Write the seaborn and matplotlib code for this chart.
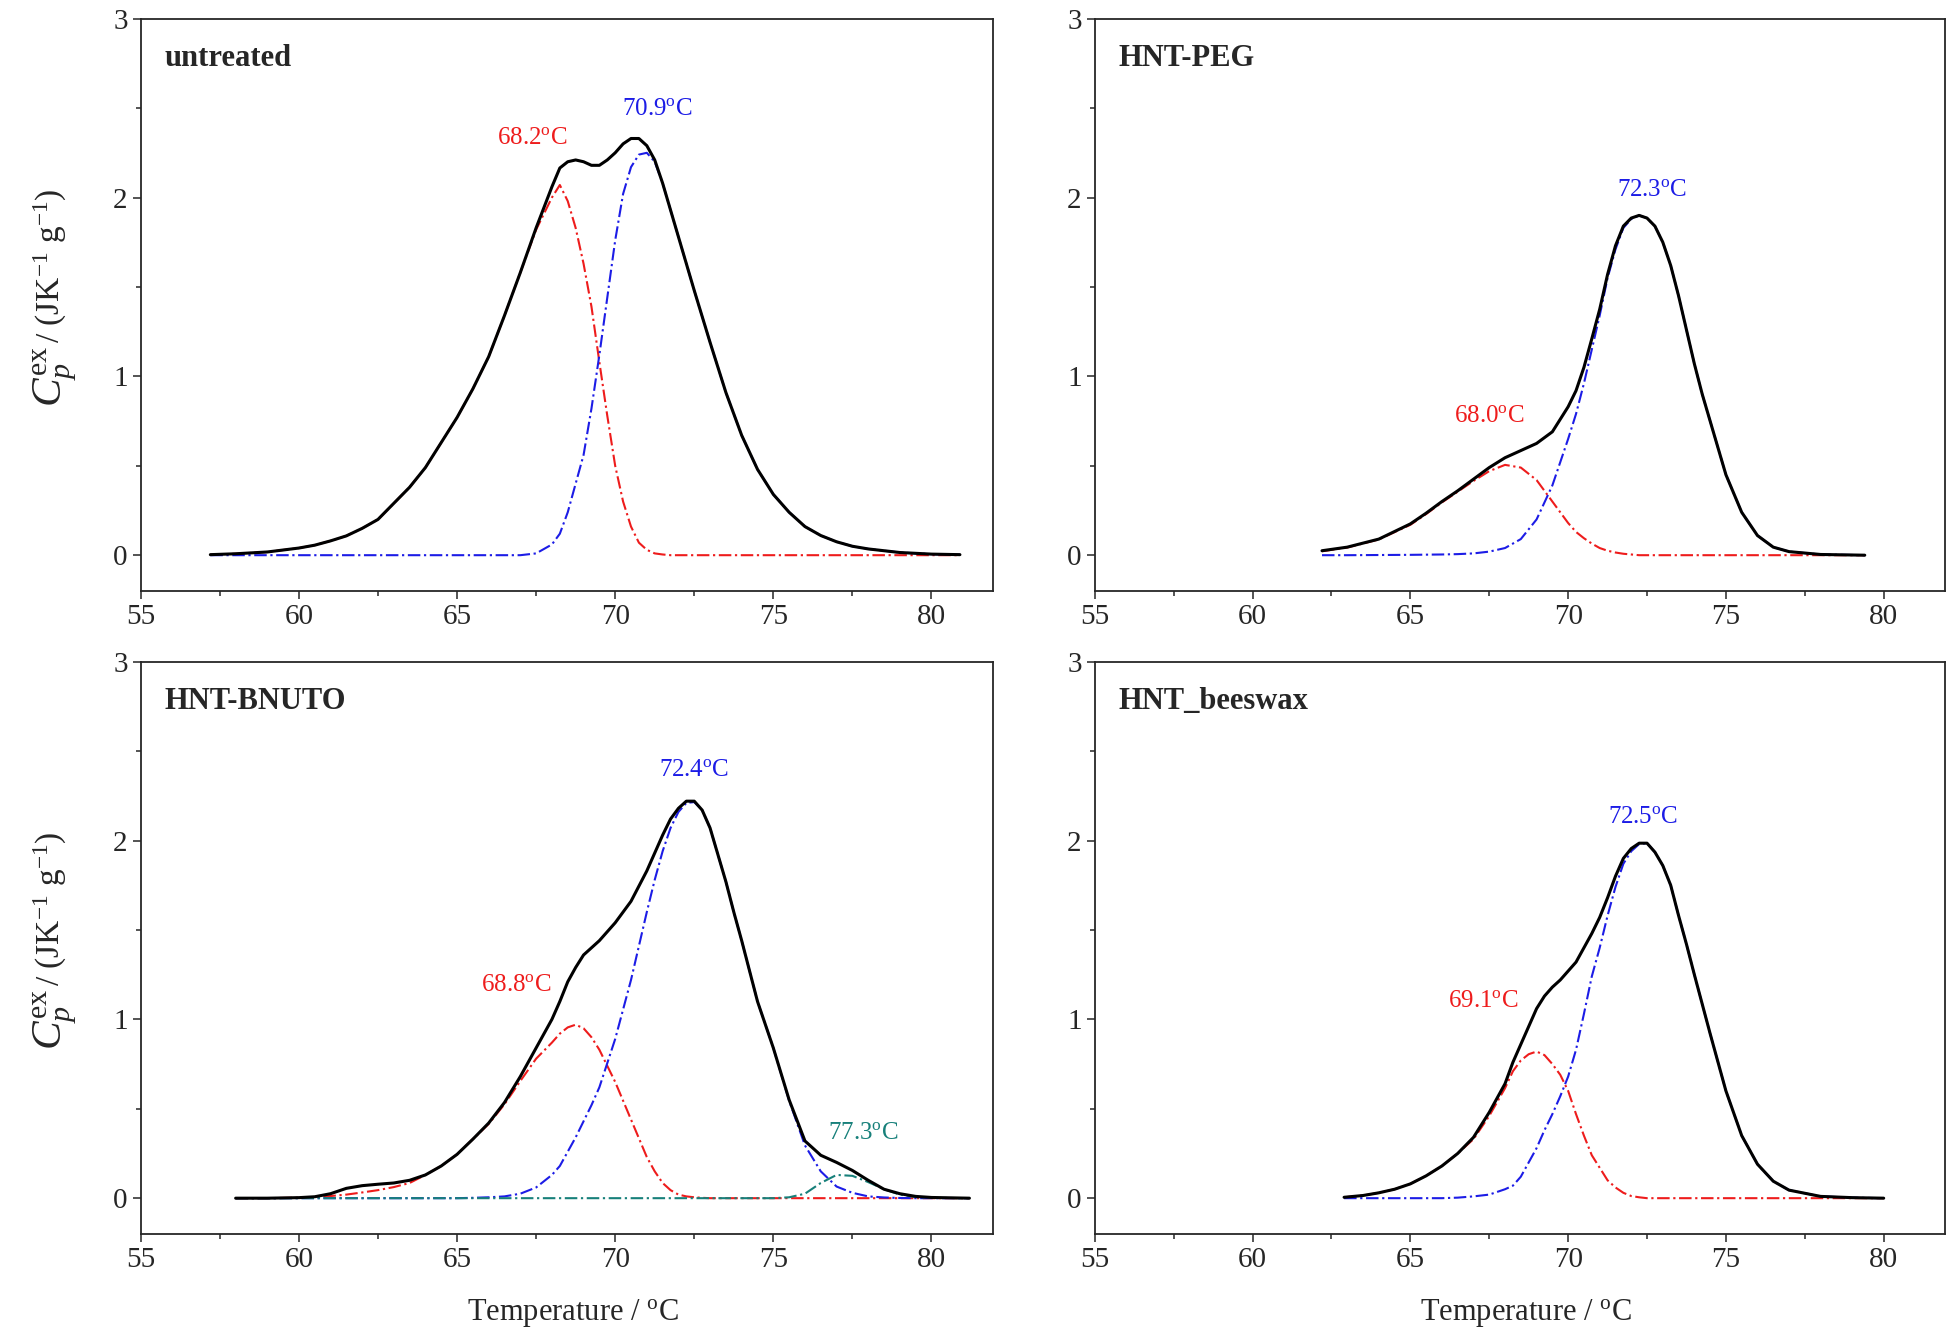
import matplotlib
matplotlib.use("Agg")
import matplotlib.pyplot as plt
from matplotlib.ticker import MultipleLocator
import seaborn as sns

# ---- data (T in degC, Cp in J K^-1 g^-1) ----
t_untreated = [57.2, 58, 59, 60, 60.5, 61, 61.5, 62, 62.5, 63, 63.5, 64, 64.5, 65, 65.5, 66,
               66.5, 67, 67.5, 68, 68.25, 68.5, 68.75, 69, 69.25, 69.5, 69.75, 70, 70.25,
               70.5, 70.75, 71, 71.25, 71.5, 71.75, 72, 72.5, 73, 73.5, 74, 74.5, 75, 75.5,
               76, 76.5, 77, 77.5, 78, 79, 80, 80.9]
total_untreated = [0.003, 0.008, 0.018, 0.04, 0.056, 0.08, 0.108, 0.15, 0.20, 0.29, 0.38,
                   0.49, 0.63, 0.77, 0.93, 1.11, 1.34, 1.58, 1.83, 2.06, 2.165, 2.20, 2.21,
                   2.20, 2.18, 2.18, 2.21, 2.25, 2.30, 2.33, 2.33, 2.29, 2.21, 2.08, 1.93,
                   1.78, 1.48, 1.19, 0.91, 0.67, 0.48, 0.34, 0.24, 0.16, 0.11, 0.075, 0.05,
                   0.035, 0.015, 0.006, 0.003]
peak1_untreated = [0.003, 0.008, 0.018, 0.04, 0.056, 0.08, 0.108, 0.15, 0.20, 0.29, 0.38,
                   0.49, 0.63, 0.77, 0.93, 1.11, 1.34, 1.58, 1.82, 2.00, 2.07, 1.98, 1.83,
                   1.63, 1.39, 1.08, 0.78, 0.50, 0.30, 0.16, 0.07, 0.03, 0.01, 0.004, 0, 0,
                   0, 0, 0, 0, 0, 0, 0, 0, 0, 0, 0, 0, 0, 0, 0]
peak2_untreated = [0, 0, 0, 0, 0, 0, 0, 0, 0, 0, 0, 0, 0, 0, 0, 0, 0, 0, 0.01, 0.06, 0.12,
                   0.24, 0.40, 0.56, 0.82, 1.12, 1.44, 1.76, 2.02, 2.17, 2.24, 2.25, 2.20,
                   2.08, 1.93, 1.78, 1.48, 1.19, 0.91, 0.67, 0.48, 0.34, 0.24, 0.16, 0.11,
                   0.075, 0.05, 0.035, 0.015, 0.006, 0.003]

t_peg = [62.2, 63, 64, 65, 65.5, 66, 66.5, 67, 67.5, 68, 68.5, 69, 69.5, 70, 70.25, 70.5,
         70.75, 71, 71.25, 71.5, 71.75, 72, 72.25, 72.5, 72.75, 73, 73.25, 73.5, 73.75, 74,
         74.25, 74.5, 75, 75.5, 76, 76.5, 77, 78, 79.4]
total_peg = [0.025, 0.045, 0.09, 0.175, 0.235, 0.30, 0.36, 0.425, 0.49, 0.545, 0.585, 0.625,
             0.69, 0.83, 0.92, 1.05, 1.21, 1.375, 1.57, 1.73, 1.84, 1.885, 1.90, 1.885, 1.84,
             1.75, 1.62, 1.45, 1.26, 1.07, 0.90, 0.75, 0.45, 0.24, 0.11, 0.045, 0.02, 0.004, 0.0]
peak1_peg = [0.022, 0.043, 0.088, 0.17, 0.23, 0.295, 0.355, 0.415, 0.47, 0.505, 0.49, 0.42,
             0.30, 0.18, 0.13, 0.095, 0.065, 0.04, 0.025, 0.015, 0.008, 0.004, 0, 0, 0, 0, 0,
             0, 0, 0, 0, 0, 0, 0, 0, 0, 0, 0, 0]
peak2_peg = [0, 0, 0.001, 0.002, 0.003, 0.004, 0.006, 0.01, 0.02, 0.04, 0.09, 0.20, 0.39, 0.65,
             0.79, 0.96, 1.15, 1.34, 1.55, 1.71, 1.83, 1.88, 1.90, 1.885, 1.84, 1.75, 1.62,
             1.45, 1.26, 1.07, 0.90, 0.75, 0.45, 0.24, 0.11, 0.045, 0.02, 0.004, 0.0]

t_bnuto = [58, 59, 60, 60.5, 61, 61.5, 62, 62.5, 63, 63.5, 64, 64.5, 65, 65.5, 66, 66.5, 67,
           67.5, 68, 68.25, 68.5, 68.75, 69, 69.25, 69.5, 70, 70.5, 71, 71.25, 71.5, 71.75,
           72, 72.25, 72.5, 72.75, 73, 73.25, 73.5, 73.75, 74, 74.5, 75, 75.5, 76, 76.5, 77,
           77.5, 78, 78.5, 79, 79.5, 80, 81.2]
total_bnuto = [0.0, 0.0, 0.003, 0.008, 0.025, 0.055, 0.07, 0.078, 0.085, 0.10, 0.13, 0.18,
               0.245, 0.33, 0.42, 0.535, 0.68, 0.84, 1.0, 1.10, 1.21, 1.29, 1.36, 1.40, 1.44,
               1.54, 1.66, 1.83, 1.93, 2.03, 2.12, 2.18, 2.22, 2.22, 2.17, 2.07, 1.92, 1.77,
               1.60, 1.44, 1.10, 0.84, 0.55, 0.32, 0.24, 0.20, 0.155, 0.10, 0.05, 0.025, 0.01,
               0.004, 0.0]
peak1_bnuto = [0, 0, 0.003, 0.006, 0.012, 0.02, 0.032, 0.045, 0.062, 0.085, 0.13, 0.18, 0.245,
               0.33, 0.415, 0.525, 0.655, 0.78, 0.87, 0.92, 0.955, 0.97, 0.95, 0.90, 0.83,
               0.65, 0.44, 0.23, 0.15, 0.085, 0.045, 0.02, 0.01, 0.005, 0.002, 0, 0, 0, 0, 0,
               0, 0, 0, 0, 0, 0, 0, 0, 0, 0, 0, 0, 0]
peak2_bnuto = [0, 0, 0, 0, 0, 0, 0, 0, 0, 0, 0, 0, 0, 0.002, 0.005, 0.01, 0.025, 0.06, 0.13,
               0.18, 0.26, 0.34, 0.43, 0.52, 0.62, 0.89, 1.22, 1.60, 1.78, 1.94, 2.07, 2.16,
               2.21, 2.215, 2.17, 2.07, 1.92, 1.77, 1.60, 1.44, 1.10, 0.84, 0.545, 0.295, 0.15,
               0.065, 0.03, 0.01, 0.004, 0.001, 0, 0, 0]
peak3_bnuto = [0, 0, 0, 0, 0, 0, 0, 0, 0, 0, 0, 0, 0, 0, 0, 0, 0, 0, 0, 0, 0, 0, 0, 0, 0, 0,
               0, 0, 0, 0, 0, 0, 0, 0, 0, 0, 0, 0, 0, 0, 0, 0, 0.005, 0.025, 0.085, 0.13,
               0.125, 0.09, 0.05, 0.02, 0.006, 0.002, 0]

t_beeswax = [62.9, 63.5, 64, 64.5, 65, 65.5, 66, 66.5, 67, 67.5, 68, 68.25, 68.5, 68.75, 69,
             69.25, 69.5, 69.75, 70, 70.25, 70.5, 70.75, 71, 71.25, 71.5, 71.75, 72, 72.25,
             72.5, 72.75, 73, 73.25, 73.5, 73.75, 74, 74.5, 75, 75.5, 76, 76.5, 77, 78, 79, 80]
total_beeswax = [0.005, 0.015, 0.03, 0.05, 0.08, 0.125, 0.18, 0.25, 0.34, 0.48, 0.64, 0.76,
                 0.86, 0.96, 1.06, 1.13, 1.18, 1.22, 1.27, 1.32, 1.40, 1.48, 1.57, 1.68, 1.80,
                 1.90, 1.955, 1.985, 1.985, 1.935, 1.86, 1.75, 1.58, 1.42, 1.25, 0.92, 0.60,
                 0.35, 0.19, 0.095, 0.045, 0.01, 0.003, 0.0]
peak1_beeswax = [0.005, 0.015, 0.03, 0.05, 0.08, 0.125, 0.18, 0.25, 0.33, 0.46, 0.615, 0.71,
                 0.77, 0.805, 0.82, 0.80, 0.75, 0.69, 0.60, 0.47, 0.35, 0.24, 0.17, 0.10, 0.06,
                 0.03, 0.012, 0.005, 0, 0, 0, 0, 0, 0, 0, 0, 0, 0, 0, 0, 0, 0, 0, 0]
peak2_beeswax = [0, 0, 0, 0, 0, 0, 0, 0.003, 0.01, 0.02, 0.05, 0.07, 0.12, 0.20, 0.28, 0.38,
                 0.47, 0.57, 0.68, 0.83, 1.03, 1.24, 1.40, 1.58, 1.74, 1.87, 1.94, 1.98, 1.985,
                 1.935, 1.86, 1.75, 1.58, 1.42, 1.25, 0.92, 0.60, 0.35, 0.19, 0.095, 0.045,
                 0.01, 0.003, 0.0]

panel_names = ["untreated", "HNT-PEG", "HNT-BNUTO", "HNT_beeswax"]
peak_labels = [["68.2", "70.9"], ["68.0", "72.3"], ["68.8", "72.4", "77.3"], ["69.1", "72.5"]]

RED, BLUE, TEAL = "#ee1c1c", "#1c1ce6", "#17807a"

sns.set_style("ticks")
plt.rcParams["font.family"] = ["Liberation Serif", "DejaVu Serif"]
plt.rcParams["mathtext.fontset"] = "custom"
plt.rcParams["mathtext.rm"] = "Liberation Serif"
plt.rcParams["mathtext.it"] = "Liberation Serif:italic"
plt.rcParams["mathtext.bf"] = "Liberation Serif:bold"
plt.rcParams["lines.scale_dashes"] = False

fig = plt.figure(figsize=(19.55, 13.34), dpi=100)
boxes = [[0.072, 0.557, 0.436, 0.429], [0.560, 0.557, 0.435, 0.429],
         [0.072, 0.075, 0.436, 0.429], [0.560, 0.075, 0.435, 0.429]]
dashdot = (0, (9, 2.6, 1.6, 2.6))

panels = [
    (t_untreated, total_untreated, [(peak1_untreated, RED), (peak2_untreated, BLUE)]),
    (t_peg, total_peg, [(peak1_peg, RED), (peak2_peg, BLUE)]),
    (t_bnuto, total_bnuto, [(peak1_bnuto, RED), (peak2_bnuto, BLUE), (peak3_bnuto, TEAL)]),
    (t_beeswax, total_beeswax, [(peak1_beeswax, RED), (peak2_beeswax, BLUE)]),
]
# label anchors (left edge, baseline) in data units
label_pos = [[(66.26, 2.30), (70.21, 2.46)],
             [(66.39, 0.745), (71.54, 2.01)],
             [(65.77, 1.16), (71.39, 2.36), (76.74, 0.33)],
             [(66.18, 1.07), (71.25, 2.10)]]

for i, (t, total, comps) in enumerate(panels):
    ax = fig.add_axes(boxes[i])
    for vals, col in comps:
        sns.lineplot(x=t, y=vals, ax=ax, color=col, lw=1.5, linestyle=dashdot,
                     estimator=None, sort=False)
    sns.lineplot(x=t, y=total, ax=ax, color="black", lw=2.2, estimator=None, sort=False)

    colors = [RED, BLUE, TEAL]
    for j, lab in enumerate(peak_labels[i]):
        x0, y0 = label_pos[i][j]
        ax.text(x0, y0, lab + r"$^{\rm o}$C", color=colors[j], fontsize=18,
                ha="left", va="baseline")
    ax.text(0.028, 0.918, panel_names[i], transform=ax.transAxes, fontsize=22,
            fontweight="bold", ha="left", va="baseline")

    ax.set_xlim(55, 81.95)
    ax.set_ylim(-0.2, 3)
    ax.xaxis.set_major_locator(MultipleLocator(5))
    ax.xaxis.set_minor_locator(MultipleLocator(2.5))
    ax.yaxis.set_major_locator(MultipleLocator(1))
    ax.yaxis.set_minor_locator(MultipleLocator(0.5))
    ax.tick_params(which="both", direction="out", width=1.1, labelsize=21,
                   top=False, right=False)
    ax.tick_params(which="major", length=6)
    ax.tick_params(which="minor", length=3.5)
    for sp in ax.spines.values():
        sp.set_linewidth(1.3)
        sp.set_visible(True)
    ax.set_xlabel("")
    ax.set_ylabel("")
    if i % 2 == 0:
        # y label in two pieces: a large C_p^ex, then the units
        ax.text(-0.093, 0.322, r"$C_p^{\rm ex}$", transform=ax.transAxes, fontsize=31,
                rotation=90, rotation_mode="anchor", ha="left", va="baseline")
        ax.text(-0.095, 0.433, r"/ (JK$^{-1}$ g$^{-1}$)", transform=ax.transAxes,
                fontsize=24, rotation=90, rotation_mode="anchor", ha="left",
                va="baseline")
    if i >= 2:
        ax.set_xlabel(r"Temperature / $^{\rm o}$C", fontsize=22)
        ax.xaxis.set_label_coords(0.507, -0.11)

fig.savefig("out.png", dpi=100)
